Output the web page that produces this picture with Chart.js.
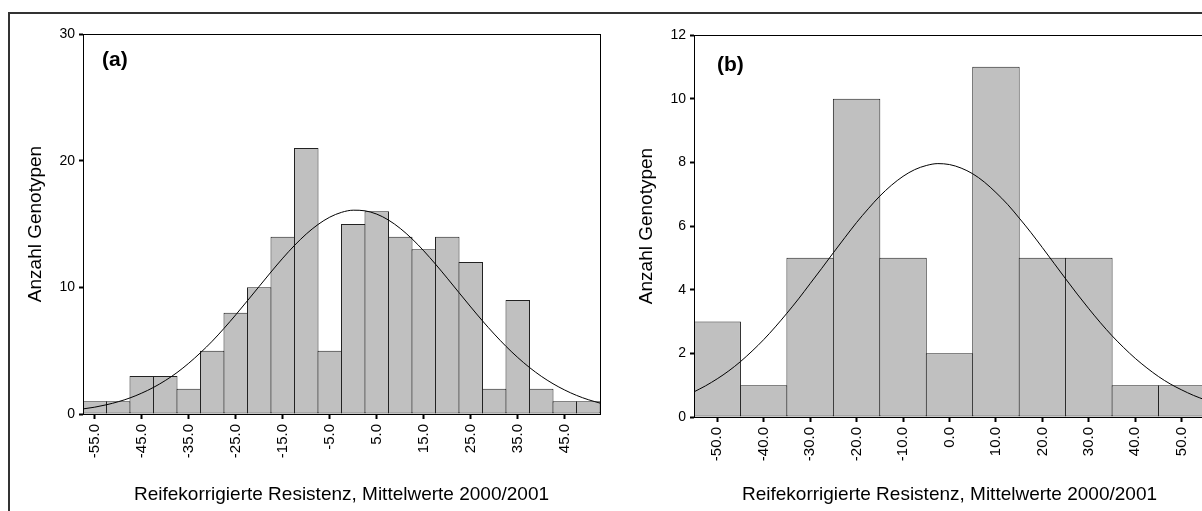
<!DOCTYPE html>
<html>
<head>
<meta charset="utf-8">
<title>Reifekorrigierte Resistenz</title>
<script src="https://cdn.jsdelivr.net/npm/chart.js@4.4.1/dist/chart.umd.min.js"></script>
<style>
  html, body { margin: 0; padding: 0; background: #fff; }
  body { width: 1202px; height: 511px; overflow: hidden; position: relative; }
  .frame-top { position: absolute; left: 8px; top: 12px; width: 1194px; height: 0; border-top: 2px solid #333; }
  .frame-left { position: absolute; left: 8px; top: 12px; width: 0; height: 499px; border-left: 2px solid #333; }
  #histA { position: absolute; left: 0; top: 0; }
  #histB { position: absolute; left: 600px; top: 0; }
</style>
</head>
<body>
<div class="frame-top"></div>
<div class="frame-left"></div>
<canvas id="histA" width="602" height="511"></canvas>
<canvas id="histB" width="620" height="511"></canvas>

<script>
// (a) bin centres (width 5) and counts
const binsA = [-55, -50, -45, -40, -35, -30, -25, -20, -15, -10, -5, 0, 5, 10, 15, 20, 25, 30, 35, 40, 45, 50];
const countsA = [1, 1, 3, 3, 2, 5, 8, 10, 14, 21, 5, 15, 16, 14, 13, 14, 12, 2, 9, 2, 1, 1];
const ticksA = [-55, -45, -35, -25, -15, -5, 5, 15, 25, 35, 45];
// fitted normal curve (a)
const curveXA = [-57.5, -55, -52.5, -50, -47.5, -45, -42.5, -40, -37.5, -35, -32.5, -30, -27.5, -25, -22.5,
  -20, -17.5, -15, -12.5, -10, -7.5, -5, -2.5, 0, 2.5, 5, 7.5, 10, 12.5, 15, 17.5, 20, 22.5, 25, 27.5,
  30, 32.5, 35, 37.5, 40, 42.5, 45, 47.5, 50, 52.5];
const curveA = [0.40, 0.54, 0.73, 0.97, 1.27, 1.65, 2.10, 2.64, 3.27, 4.01, 4.84, 5.75, 6.76, 7.83, 8.95,
  10.08, 11.21, 12.30, 13.31, 14.21, 14.96, 15.54, 15.92, 16.09, 16.04, 15.78, 15.31, 14.65, 13.83, 12.88,
  11.83, 10.72, 9.58, 8.45, 7.35, 6.31, 5.34, 4.46, 3.67, 2.98, 2.39, 1.89, 1.47, 1.13, 0.86];

// (b) bin centres (width 10) and counts
const binsB = [-50, -40, -30, -20, -10, 0, 10, 20, 30, 40, 50];
const countsB = [3, 1, 5, 10, 5, 2, 11, 5, 5, 1, 1];
const ticksB = [-50, -40, -30, -20, -10, 0, 10, 20, 30, 40, 50];
// fitted normal curve (b)
const curveXB = [-55, -52.5, -50, -47.5, -45, -42.5, -40, -37.5, -35, -32.5, -30, -27.5, -25, -22.5, -20,
  -17.5, -15, -12.5, -10, -7.5, -5, -2.5, 0, 2.5, 5, 7.5, 10, 12.5, 15, 17.5, 20, 22.5, 25, 27.5, 30,
  32.5, 35, 37.5, 40, 42.5, 45, 47.5, 50, 52.5, 55];
const curveB = [0.79, 0.98, 1.20, 1.45, 1.74, 2.07, 2.43, 2.83, 3.26, 3.71, 4.19, 4.67, 5.16, 5.64, 6.11,
  6.54, 6.94, 7.28, 7.56, 7.77, 7.90, 7.96, 7.93, 7.82, 7.64, 7.38, 7.05, 6.68, 6.25, 5.80, 5.32, 4.83,
  4.34, 3.86, 3.40, 2.96, 2.55, 2.18, 1.84, 1.54, 1.27, 1.04, 0.85, 0.68, 0.54];

const xTitle = 'Reifekorrigierte Resistenz, Mittelwerte 2000/2001';
const yTitle = 'Anzahl Genotypen';
const FONT = '"Liberation Sans", Arial, sans-serif';

// box around the plot area
const plotFrame = {
  id: 'plotFrame',
  afterDatasetsDraw(chart) {
    const { ctx, chartArea: a } = chart;
    ctx.save();
    ctx.strokeStyle = '#000';
    ctx.lineWidth = 1;
    ctx.strokeRect(Math.round(a.left) + 0.5, Math.round(a.top) + 0.5,
      Math.round(a.right - a.left), Math.round(a.bottom - a.top));
    ctx.restore();
  }
};

// "(a)" / "(b)" inside the plot
const panelTag = {
  id: 'panelTag',
  afterDraw(chart, args, opts) {
    const { ctx, chartArea: a } = chart;
    ctx.save();
    ctx.font = 'bold 21px ' + FONT;
    ctx.fillStyle = '#000';
    ctx.fillText(opts.text, a.left + opts.dx, a.top + opts.dy);
    ctx.restore();
  }
};

function histogram(id, s) {
  const bars = s.bins.map((b, i) => ({ x: b, y: s.counts[i] }));
  const curve = s.curveX.map((x, i) => ({ x: x, y: s.curve[i] }));

  return new Chart(document.getElementById(id), {
    type: 'bar',
    data: {
      datasets: [
        {
          type: 'line',
          data: curve,
          borderColor: '#000',
          borderWidth: 1,
          pointRadius: 0,
          cubicInterpolationMode: 'monotone',
          order: 1
        },
        {
          data: bars,
          backgroundColor: '#c0c0c0',
          borderColor: '#222',
          borderWidth: 1,
          borderSkipped: false,
          categoryPercentage: 1,
          barPercentage: s.barPct,
          order: 2
        }
      ]
    },
    options: {
      responsive: false,
      animation: false,
      layout: { padding: s.padding },
      plugins: {
        legend: { display: false },
        tooltip: { enabled: false },
        panelTag: { text: s.tag, dx: s.tagDx, dy: s.tagDy }
      },
      scales: {
        x: {
          type: 'linear',
          offset: false,
          min: s.xMin,
          max: s.xMax,
          afterBuildTicks: (scale) => { scale.ticks = s.ticks.map(v => ({ value: v })); },
          afterFit: (scale) => { scale.height = s.xHeight; },
          ticks: {
            autoSkip: false,
            maxRotation: 90,
            minRotation: 90,
            padding: 5,
            color: '#000',
            font: { family: FONT, size: 15 },
            callback: (v) => Number(v).toFixed(1)
          },
          grid: { offset: false, drawOnChartArea: false, tickLength: 5, tickWidth: 2, tickColor: '#000' },
          border: { display: true, color: '#000' },
          title: {
            display: true,
            text: xTitle,
            color: '#000',
            font: { family: FONT, size: 19 },
            padding: { top: 0, bottom: 5 }
          }
        },
        y: {
          min: 0,
          max: s.yMax,
          afterFit: (scale) => { scale.width = s.yWidth; },
          ticks: {
            stepSize: s.yStep,
            padding: 4,
            color: '#000',
            font: { family: FONT, size: 14 }
          },
          grid: { drawOnChartArea: false, tickLength: 4, tickWidth: 2, tickColor: '#000' },
          border: { display: true, color: '#000' },
          title: {
            display: true,
            text: yTitle,
            color: '#000',
            font: { family: FONT, size: 19 },
            padding: { top: s.yTitlePad, bottom: 0 }
          }
        }
      }
    },
    plugins: [plotFrame, panelTag]
  });
}

histogram('histA', {
  bins: binsA, counts: countsA, curveX: curveXA, curve: curveA, ticks: ticksA,
  xMin: -57.5, xMax: 52.5, yMax: 30, yStep: 10,
  barPct: 24.5 / 23.5,
  padding: { left: 0, top: 34, right: 2, bottom: 0 },
  yWidth: 83, xHeight: 97, yTitlePad: 24,
  tag: '(a)', tagDx: 19, tagDy: 32
});

histogram('histB', {
  bins: binsB, counts: countsB, curveX: curveXB, curve: curveB, ticks: ticksB,
  xMin: -55, xMax: 55, yMax: 12, yStep: 2,
  barPct: 47.5 / 46.5,
  padding: { left: 0, top: 35, right: 15, bottom: 0 },
  yWidth: 94, xHeight: 94, yTitlePad: 35,
  tag: '(b)', tagDx: 23, tagDy: 36
});
</script>
</body>
</html>
